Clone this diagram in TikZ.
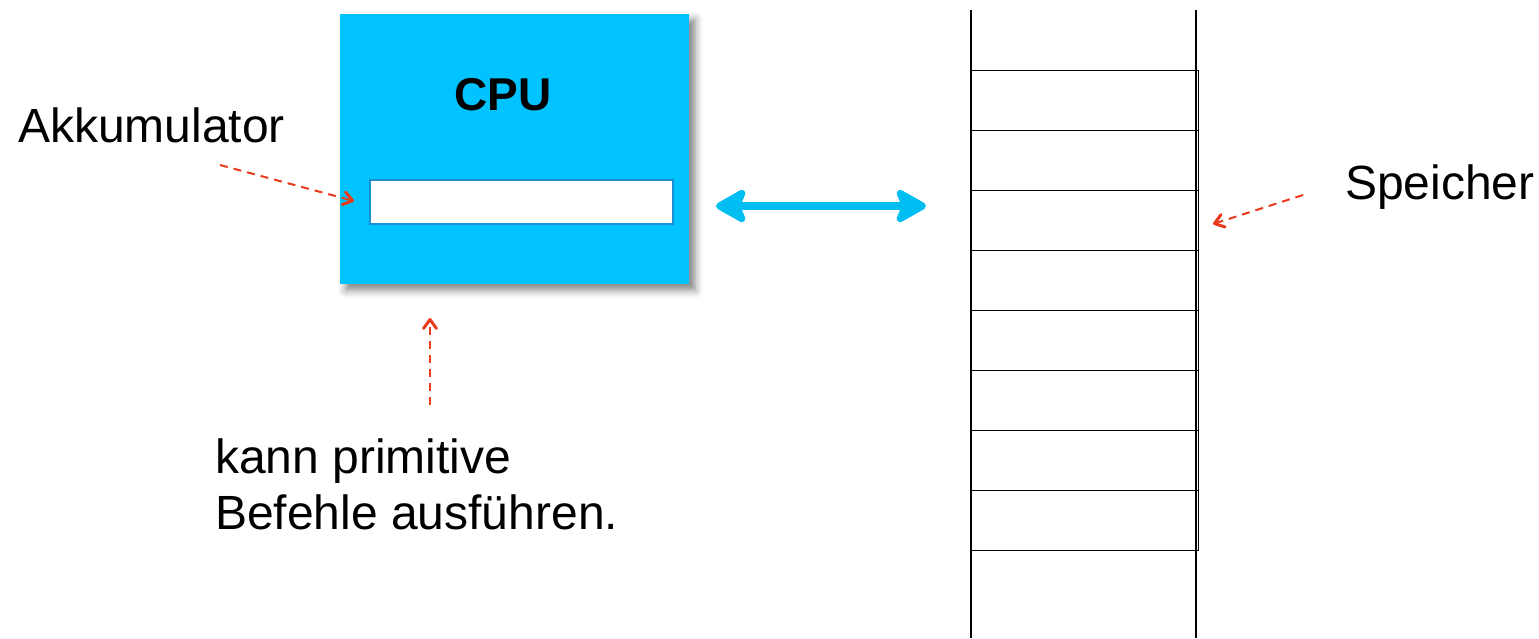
\documentclass[tikz,border=0pt]{standalone}
\usepackage{fontspec}
\setmainfont{Liberation Sans}
\usetikzlibrary{arrows.meta,shadows.blur}
\definecolor{cpublue}{HTML}{00C3FF}
\definecolor{regedge}{HTML}{1A8FD6}
\definecolor{linkblue}{HTML}{00BDF2}
\definecolor{notered}{HTML}{EA3A1C}
\tikzset{
  label text/.style={inner sep=0pt, font=\fontsize{48}{56}\selectfont},
  note arrow/.style={notered, line width=2pt, dash pattern=on 8pt off 6pt,
    -{Straight Barb[length=9pt,width=13pt,line width=3pt,round]}},
  cell/.style={draw=black, line width=1.2pt},
}
\begin{document}
\begin{tikzpicture}[x=1pt,y=-1pt]
  \useasboundingbox (0,0) rectangle (1539,638);

  % processor block with its accumulator register
  \node[fill=cpublue, minimum width=349pt, minimum height=270pt, inner sep=0pt,
        blur shadow={shadow xshift=6pt, shadow yshift=-6pt, shadow blur radius=8pt, shadow opacity=50}]
        (cpu) at (514.5,149) {};
  \node[anchor=base west, inner sep=0pt, font=\fontsize{46}{50}\selectfont\bfseries] (cputitle) at (454,110) {CPU};
  \node[fill=white, draw=regedge, line width=2pt, minimum width=303pt, minimum height=44pt, inner sep=0pt]
        (acc) at (521.5,202) {};

  % labels
  \node[label text, anchor=base west] (acclabel) at (18,142) {Akkumulator};
  \node[label text, anchor=base west] (memlabel) at (1345,199) {Speicher};
  \node[label text, anchor=base west, align=left] (oplabel) at (215,529) {kann primitive\\Befehle ausführen.};

  % annotation arrows
  \coordinate (accfrom) at (220,165);
  \coordinate (accto) at (354,201);
  \draw[note arrow] (accfrom) -- (accto);
  \coordinate (opfrom) at (430,405);
  \coordinate (opto) at (430,318);
  \draw[note arrow] (opfrom) -- (opto);
  \coordinate (memfrom) at (1303,195);
  \coordinate (memto) at (1213,224);
  \draw[note arrow] (memfrom) -- (memto);

  % memory column: long side rails and a stack of cells
  \coordinate (railLtop) at (971,10);
  \coordinate (railLbot) at (971,638);
  \coordinate (railRtop) at (1196,10);
  \coordinate (railRbot) at (1196,638);
  \foreach \i in {0,...,7} {
    \node[cell, anchor=north west, minimum width=227pt, minimum height=60pt, inner sep=0pt, fill=white]
      (cell\i) at (971,70+60*\i) {};
  }
  \draw[cell] (railLtop) -- (railLbot);
  \draw[cell] (railRtop) -- (railRbot);

  % data path between processor and memory
  \coordinate (busL) at (716,206);
  \coordinate (busR) at (926,206);
  \draw[linkblue, line width=8pt, {Stealth[length=36pt,width=40pt,inset=8pt,round]}-{Stealth[length=36pt,width=40pt,inset=8pt,round]}]
    (busL) -- (busR);
\end{tikzpicture}
\end{document}
